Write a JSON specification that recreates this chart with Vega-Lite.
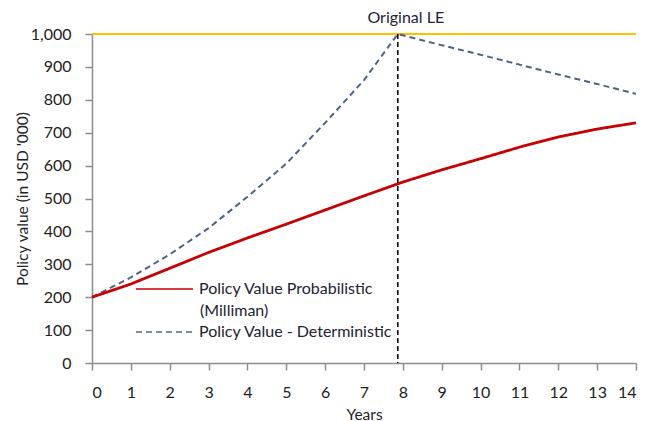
{
  "$schema": "https://vega.github.io/schema/vega-lite/v6.json",
  "width": 544,
  "height": 329,
  "autosize": {"type": "none"},
  "padding": {"left": 92, "top": 34, "right": 23, "bottom": 58},
  "background": "white",
  "config": {
    "view": {"stroke": null},
    "font": "Lato",
    "axis": {
      "grid": false,
      "domainColor": "#8c8c8c",
      "domainWidth": 1.5,
      "tickColor": "#8c8c8c",
      "tickWidth": 1.5,
      "tickSize": 7,
      "labelFont": "Lato",
      "labelFontSize": 16,
      "labelColor": "#222222",
      "titleFont": "Lato",
      "titleFontSize": 15.5,
      "titleFontWeight": "normal",
      "titleColor": "#222222"
    },
    "axisX": {"labelBaseline": "middle", "labelPadding": 22, "titleY": 51, "titleBaseline": "middle"},
    "axisY": {"labelPadding": 14, "titleX": -70, "titleY": 164.5, "titleAngle": -90, "titleBaseline": "middle", "titleAlign": "center"},
    "legend": {
      "title": null,
      "orient": "none",
      "legendX": 52.5,
      "legendY": 235,
      "symbolType": "M-1.5,0H1.5",
      "symbolSize": 1444,
      "symbolStrokeWidth": 1.6,
      "labelFont": "Lato",
      "labelFontSize": 16,
      "labelColor": "#222233",
      "labelOffset": 14.5,
      "labelLimit": 300,
      "rowPadding": 15
    }
  },
  "datasets": {
    "series": [
      {"series": "Policy Value Probabilistic (Milliman)", "year": 0, "value": 200},
      {"series": "Policy Value Probabilistic (Milliman)", "year": 1, "value": 240},
      {"series": "Policy Value Probabilistic (Milliman)", "year": 2, "value": 288},
      {"series": "Policy Value Probabilistic (Milliman)", "year": 3, "value": 336},
      {"series": "Policy Value Probabilistic (Milliman)", "year": 4, "value": 380},
      {"series": "Policy Value Probabilistic (Milliman)", "year": 5, "value": 422},
      {"series": "Policy Value Probabilistic (Milliman)", "year": 6, "value": 465},
      {"series": "Policy Value Probabilistic (Milliman)", "year": 7, "value": 508},
      {"series": "Policy Value Probabilistic (Milliman)", "year": 8, "value": 550},
      {"series": "Policy Value Probabilistic (Milliman)", "year": 9, "value": 587},
      {"series": "Policy Value Probabilistic (Milliman)", "year": 10, "value": 621},
      {"series": "Policy Value Probabilistic (Milliman)", "year": 11, "value": 656},
      {"series": "Policy Value Probabilistic (Milliman)", "year": 12, "value": 687},
      {"series": "Policy Value Probabilistic (Milliman)", "year": 13, "value": 711},
      {"series": "Policy Value Probabilistic (Milliman)", "year": 14, "value": 730},
      {"series": "Policy Value - Deterministic", "year": 0, "value": 200},
      {"series": "Policy Value - Deterministic", "year": 1, "value": 260},
      {"series": "Policy Value - Deterministic", "year": 2, "value": 330},
      {"series": "Policy Value - Deterministic", "year": 3, "value": 410},
      {"series": "Policy Value - Deterministic", "year": 4, "value": 505},
      {"series": "Policy Value - Deterministic", "year": 5, "value": 606},
      {"series": "Policy Value - Deterministic", "year": 6, "value": 730},
      {"series": "Policy Value - Deterministic", "year": 7, "value": 860},
      {"series": "Policy Value - Deterministic", "year": 7.87, "value": 1000},
      {"series": "Policy Value - Deterministic", "year": 9, "value": 966},
      {"series": "Policy Value - Deterministic", "year": 10, "value": 937},
      {"series": "Policy Value - Deterministic", "year": 11, "value": 907},
      {"series": "Policy Value - Deterministic", "year": 12, "value": 877},
      {"series": "Policy Value - Deterministic", "year": 13, "value": 848},
      {"series": "Policy Value - Deterministic", "year": 14, "value": 818}
    ],
    "cap": [{"value": 1000}],
    "le": [{"year": 7.87, "value": 1000, "label": "Original LE"}],
    "note": [{"year": 2.78, "value": 158, "label": "(Milliman)"}]
  },
  "layer": [
    {
      "data": {"name": "cap"},
      "mark": {"type": "rule", "color": "#FFC000", "strokeWidth": 2},
      "encoding": {
        "y": {
          "field": "value", "type": "quantitative",
          "scale": {"domain": [0, 1000], "nice": false},
          "axis": {"values": [0,100,200,300,400,500,600,700,800,900,1000], "format": ",d", "title": "Policy value (in USD '000)"}
        }
      }
    },
    {
      "data": {"name": "series"},
      "transform": [{"filter": "datum.series === 'Policy Value - Deterministic'"}],
      "mark": {"type": "line", "strokeWidth": 2},
      "encoding": {
        "x": {
          "field": "year", "type": "quantitative",
          "scale": {"domain": [0, 14], "nice": false},
          "axis": {"values": [0,1,2,3,4,5,6,7,8,9,10,11,12,13,14], "title": "Years"}
        },
        "y": {
          "field": "value", "type": "quantitative",
          "scale": {"domain": [0, 1000], "nice": false},
          "axis": {"values": [0,100,200,300,400,500,600,700,800,900,1000], "format": ",d", "title": "Policy value (in USD '000)"}
        },
        "color": {
          "field": "series",
          "type": "nominal",
          "scale": {"domain": ["Policy Value Probabilistic (Milliman)", "Policy Value - Deterministic"], "range": ["#C80000", "#4F6483"]},
          "legend": {
            "labelExpr": "datum.label == 'Policy Value Probabilistic (Milliman)' ? 'Policy Value Probabilistic' : datum.label",
            "encode": {"symbols": {"update": {"strokeWidth": {"value": 1.6}}}}
          }
        },
        "strokeDash": {
          "field": "series",
          "type": "nominal",
          "scale": {"domain": ["Policy Value Probabilistic (Milliman)", "Policy Value - Deterministic"], "range": [[1, 0], [6, 4]]},
          "legend": {
            "labelExpr": "datum.label == 'Policy Value Probabilistic (Milliman)' ? 'Policy Value Probabilistic' : datum.label",
            "encode": {"symbols": {"update": {"strokeWidth": {"value": 1.6}}}}
          }
        }
      }
    },
    {
      "data": {"name": "series"},
      "transform": [{"filter": "datum.series === 'Policy Value Probabilistic (Milliman)'"}],
      "mark": {"type": "line", "strokeWidth": 2.8},
      "encoding": {
        "x": {
          "field": "year", "type": "quantitative",
          "scale": {"domain": [0, 14], "nice": false},
          "axis": {"values": [0,1,2,3,4,5,6,7,8,9,10,11,12,13,14], "title": "Years"}
        },
        "y": {
          "field": "value", "type": "quantitative",
          "scale": {"domain": [0, 1000], "nice": false},
          "axis": {"values": [0,100,200,300,400,500,600,700,800,900,1000], "format": ",d", "title": "Policy value (in USD '000)"}
        },
        "color": {
          "field": "series",
          "type": "nominal",
          "scale": {"domain": ["Policy Value Probabilistic (Milliman)", "Policy Value - Deterministic"], "range": ["#C80000", "#4F6483"]},
          "legend": {
            "labelExpr": "datum.label == 'Policy Value Probabilistic (Milliman)' ? 'Policy Value Probabilistic' : datum.label",
            "encode": {"symbols": {"update": {"strokeWidth": {"value": 1.6}}}}
          }
        },
        "strokeDash": {
          "field": "series",
          "type": "nominal",
          "scale": {"domain": ["Policy Value Probabilistic (Milliman)", "Policy Value - Deterministic"], "range": [[1, 0], [6, 4]]},
          "legend": {
            "labelExpr": "datum.label == 'Policy Value Probabilistic (Milliman)' ? 'Policy Value Probabilistic' : datum.label",
            "encode": {"symbols": {"update": {"strokeWidth": {"value": 1.6}}}}
          }
        }
      }
    },
    {
      "data": {"name": "note"},
      "mark": {"type": "text", "font": "Lato", "fontSize": 16, "color": "#222233", "align": "left", "baseline": "middle"},
      "encoding": {
        "x": {
          "field": "year", "type": "quantitative",
          "scale": {"domain": [0, 14], "nice": false},
          "axis": {"values": [0,1,2,3,4,5,6,7,8,9,10,11,12,13,14], "title": "Years"}
        },
        "y": {
          "field": "value", "type": "quantitative",
          "scale": {"domain": [0, 1000], "nice": false},
          "axis": {"values": [0,100,200,300,400,500,600,700,800,900,1000], "format": ",d", "title": "Policy value (in USD '000)"}
        },
        "text": {"field": "label"}
      }
    },
    {
      "data": {"name": "le"},
      "mark": {"type": "rule", "color": "#000000", "strokeWidth": 1.5, "strokeDash": [5, 3]},
      "encoding": {
        "x": {
          "field": "year", "type": "quantitative",
          "scale": {"domain": [0, 14], "nice": false},
          "axis": {"values": [0,1,2,3,4,5,6,7,8,9,10,11,12,13,14], "title": "Years"}
        }
      }
    },
    {
      "data": {"name": "le"},
      "mark": {"type": "text", "font": "Lato", "fontSize": 16, "color": "#222233", "dx": 8, "dy": -16, "align": "center", "baseline": "middle"},
      "encoding": {
        "x": {
          "field": "year", "type": "quantitative",
          "scale": {"domain": [0, 14], "nice": false},
          "axis": {"values": [0,1,2,3,4,5,6,7,8,9,10,11,12,13,14], "title": "Years"}
        },
        "y": {
          "field": "value", "type": "quantitative",
          "scale": {"domain": [0, 1000], "nice": false},
          "axis": {"values": [0,100,200,300,400,500,600,700,800,900,1000], "format": ",d", "title": "Policy value (in USD '000)"}
        },
        "text": {"field": "label"}
      }
    }
  ]
}
